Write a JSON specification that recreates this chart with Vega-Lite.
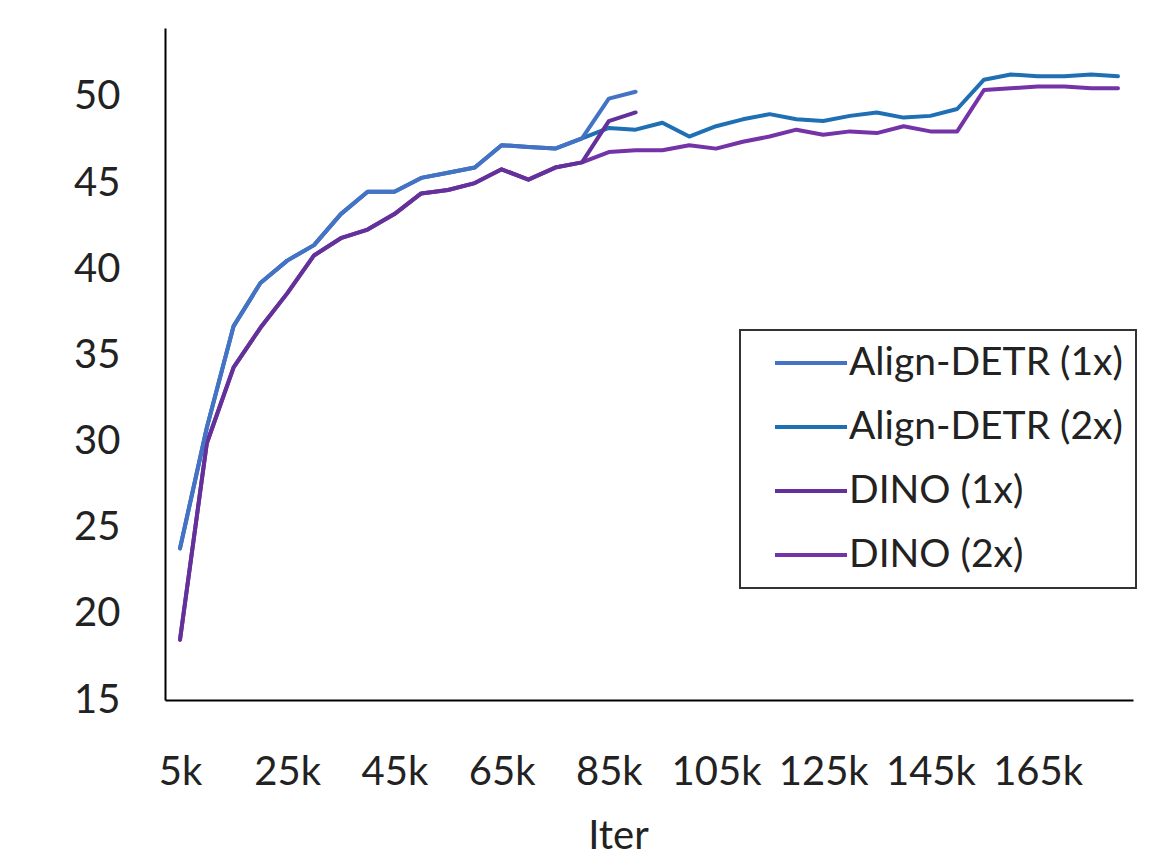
{
  "$schema": "https://vega.github.io/schema/vega-lite/v6.json",
  "width": 968,
  "height": 672,
  "autosize": "none",
  "padding": {"left": 165, "top": 28, "right": 31, "bottom": 154},
  "background": "white",
  "config": {"view": {"stroke": null}, "font": "Lato", "legend": {"strokeWidth": 2}},
  "data": {"values": [
    {"iter": 5, "series": "Align-DETR (2x)", "ap": 23.8},
    {"iter": 10, "series": "Align-DETR (2x)", "ap": 30.8},
    {"iter": 15, "series": "Align-DETR (2x)", "ap": 36.7},
    {"iter": 20, "series": "Align-DETR (2x)", "ap": 39.2},
    {"iter": 25, "series": "Align-DETR (2x)", "ap": 40.5},
    {"iter": 30, "series": "Align-DETR (2x)", "ap": 41.4},
    {"iter": 35, "series": "Align-DETR (2x)", "ap": 43.2},
    {"iter": 40, "series": "Align-DETR (2x)", "ap": 44.5},
    {"iter": 45, "series": "Align-DETR (2x)", "ap": 44.5},
    {"iter": 50, "series": "Align-DETR (2x)", "ap": 45.3},
    {"iter": 55, "series": "Align-DETR (2x)", "ap": 45.6},
    {"iter": 60, "series": "Align-DETR (2x)", "ap": 45.9},
    {"iter": 65, "series": "Align-DETR (2x)", "ap": 47.2},
    {"iter": 70, "series": "Align-DETR (2x)", "ap": 47.1},
    {"iter": 75, "series": "Align-DETR (2x)", "ap": 47.0},
    {"iter": 80, "series": "Align-DETR (2x)", "ap": 47.6},
    {"iter": 85, "series": "Align-DETR (2x)", "ap": 48.2},
    {"iter": 90, "series": "Align-DETR (2x)", "ap": 48.1},
    {"iter": 95, "series": "Align-DETR (2x)", "ap": 48.5},
    {"iter": 100, "series": "Align-DETR (2x)", "ap": 47.7},
    {"iter": 105, "series": "Align-DETR (2x)", "ap": 48.3},
    {"iter": 110, "series": "Align-DETR (2x)", "ap": 48.7},
    {"iter": 115, "series": "Align-DETR (2x)", "ap": 49.0},
    {"iter": 120, "series": "Align-DETR (2x)", "ap": 48.7},
    {"iter": 125, "series": "Align-DETR (2x)", "ap": 48.6},
    {"iter": 130, "series": "Align-DETR (2x)", "ap": 48.9},
    {"iter": 135, "series": "Align-DETR (2x)", "ap": 49.1},
    {"iter": 140, "series": "Align-DETR (2x)", "ap": 48.8},
    {"iter": 145, "series": "Align-DETR (2x)", "ap": 48.9},
    {"iter": 150, "series": "Align-DETR (2x)", "ap": 49.3},
    {"iter": 155, "series": "Align-DETR (2x)", "ap": 51.0},
    {"iter": 160, "series": "Align-DETR (2x)", "ap": 51.3},
    {"iter": 165, "series": "Align-DETR (2x)", "ap": 51.2},
    {"iter": 170, "series": "Align-DETR (2x)", "ap": 51.2},
    {"iter": 175, "series": "Align-DETR (2x)", "ap": 51.3},
    {"iter": 180, "series": "Align-DETR (2x)", "ap": 51.2},
    {"iter": 5, "series": "DINO (2x)", "ap": 18.5},
    {"iter": 10, "series": "DINO (2x)", "ap": 29.9},
    {"iter": 15, "series": "DINO (2x)", "ap": 34.3},
    {"iter": 20, "series": "DINO (2x)", "ap": 36.6},
    {"iter": 25, "series": "DINO (2x)", "ap": 38.6},
    {"iter": 30, "series": "DINO (2x)", "ap": 40.8},
    {"iter": 35, "series": "DINO (2x)", "ap": 41.8},
    {"iter": 40, "series": "DINO (2x)", "ap": 42.3},
    {"iter": 45, "series": "DINO (2x)", "ap": 43.2},
    {"iter": 50, "series": "DINO (2x)", "ap": 44.4},
    {"iter": 55, "series": "DINO (2x)", "ap": 44.6},
    {"iter": 60, "series": "DINO (2x)", "ap": 45.0},
    {"iter": 65, "series": "DINO (2x)", "ap": 45.8},
    {"iter": 70, "series": "DINO (2x)", "ap": 45.2},
    {"iter": 75, "series": "DINO (2x)", "ap": 45.9},
    {"iter": 80, "series": "DINO (2x)", "ap": 46.2},
    {"iter": 85, "series": "DINO (2x)", "ap": 46.8},
    {"iter": 90, "series": "DINO (2x)", "ap": 46.9},
    {"iter": 95, "series": "DINO (2x)", "ap": 46.9},
    {"iter": 100, "series": "DINO (2x)", "ap": 47.2},
    {"iter": 105, "series": "DINO (2x)", "ap": 47.0},
    {"iter": 110, "series": "DINO (2x)", "ap": 47.4},
    {"iter": 115, "series": "DINO (2x)", "ap": 47.7},
    {"iter": 120, "series": "DINO (2x)", "ap": 48.1},
    {"iter": 125, "series": "DINO (2x)", "ap": 47.8},
    {"iter": 130, "series": "DINO (2x)", "ap": 48.0},
    {"iter": 135, "series": "DINO (2x)", "ap": 47.9},
    {"iter": 140, "series": "DINO (2x)", "ap": 48.3},
    {"iter": 145, "series": "DINO (2x)", "ap": 48.0},
    {"iter": 150, "series": "DINO (2x)", "ap": 48.0},
    {"iter": 155, "series": "DINO (2x)", "ap": 50.4},
    {"iter": 160, "series": "DINO (2x)", "ap": 50.5},
    {"iter": 165, "series": "DINO (2x)", "ap": 50.6},
    {"iter": 170, "series": "DINO (2x)", "ap": 50.6},
    {"iter": 175, "series": "DINO (2x)", "ap": 50.5},
    {"iter": 180, "series": "DINO (2x)", "ap": 50.5},
    {"iter": 5, "series": "DINO (1x)", "ap": 18.5},
    {"iter": 10, "series": "DINO (1x)", "ap": 29.9},
    {"iter": 15, "series": "DINO (1x)", "ap": 34.3},
    {"iter": 20, "series": "DINO (1x)", "ap": 36.6},
    {"iter": 25, "series": "DINO (1x)", "ap": 38.6},
    {"iter": 30, "series": "DINO (1x)", "ap": 40.8},
    {"iter": 35, "series": "DINO (1x)", "ap": 41.8},
    {"iter": 40, "series": "DINO (1x)", "ap": 42.3},
    {"iter": 45, "series": "DINO (1x)", "ap": 43.2},
    {"iter": 50, "series": "DINO (1x)", "ap": 44.4},
    {"iter": 55, "series": "DINO (1x)", "ap": 44.6},
    {"iter": 60, "series": "DINO (1x)", "ap": 45.0},
    {"iter": 65, "series": "DINO (1x)", "ap": 45.8},
    {"iter": 70, "series": "DINO (1x)", "ap": 45.2},
    {"iter": 75, "series": "DINO (1x)", "ap": 45.9},
    {"iter": 80, "series": "DINO (1x)", "ap": 46.2},
    {"iter": 85, "series": "DINO (1x)", "ap": 48.6},
    {"iter": 90, "series": "DINO (1x)", "ap": 49.1},
    {"iter": 5, "series": "Align-DETR (1x)", "ap": 23.8},
    {"iter": 10, "series": "Align-DETR (1x)", "ap": 30.8},
    {"iter": 15, "series": "Align-DETR (1x)", "ap": 36.7},
    {"iter": 20, "series": "Align-DETR (1x)", "ap": 39.2},
    {"iter": 25, "series": "Align-DETR (1x)", "ap": 40.5},
    {"iter": 30, "series": "Align-DETR (1x)", "ap": 41.4},
    {"iter": 35, "series": "Align-DETR (1x)", "ap": 43.2},
    {"iter": 40, "series": "Align-DETR (1x)", "ap": 44.5},
    {"iter": 45, "series": "Align-DETR (1x)", "ap": 44.5},
    {"iter": 50, "series": "Align-DETR (1x)", "ap": 45.3},
    {"iter": 55, "series": "Align-DETR (1x)", "ap": 45.6},
    {"iter": 60, "series": "Align-DETR (1x)", "ap": 45.9},
    {"iter": 65, "series": "Align-DETR (1x)", "ap": 47.2},
    {"iter": 70, "series": "Align-DETR (1x)", "ap": 47.1},
    {"iter": 75, "series": "Align-DETR (1x)", "ap": 47.0},
    {"iter": 80, "series": "Align-DETR (1x)", "ap": 47.6},
    {"iter": 85, "series": "Align-DETR (1x)", "ap": 49.9},
    {"iter": 90, "series": "Align-DETR (1x)", "ap": 50.3}
  ]},
  "mark": {"type": "line", "strokeWidth": 4, "strokeJoin": "round", "strokeCap": "round"},
  "encoding": {
    "x": {
      "field": "iter", "type": "quantitative",
      "scale": {"domain": [2.2, 182.8], "nice": false, "zero": false},
      "axis": {
        "values": [5, 25, 45, 65, 85, 105, 125, 145, 165],
        "labelExpr": "datum.value + 'k'",
        "grid": false, "ticks": false, "tickSize": 0,
        "domainColor": "#000000", "domainWidth": 2,
        "labelFontSize": 40, "labelColor": "#222222", "labelPadding": 52,
        "labelFlush": false, "labelOverlap": false,
        "title": "Iter", "titleFontSize": 40, "titleFontWeight": "normal", "titleColor": "#222222",
        "titleX": 453, "titleY": 116, "titleBaseline": "top", "titleAlign": "center", "titleAnchor": null
      }
    },
    "y": {
      "field": "ap", "type": "quantitative",
      "scale": {"domain": [15, 54], "nice": false, "zero": false},
      "axis": {
        "values": [15, 20, 25, 30, 35, 40, 45, 50],
        "grid": false, "ticks": false, "tickSize": 0,
        "domainColor": "#000000", "domainWidth": 2,
        "labelFontSize": 40, "labelColor": "#222222", "labelPadding": 45,
        "labelFlush": false, "labelOverlap": false,
        "title": null
      }
    },
    "color": {
      "field": "series", "type": "nominal",
      "scale": {
        "domain": ["Align-DETR (1x)", "Align-DETR (2x)", "DINO (1x)", "DINO (2x)"],
        "range": ["#4472C4", "#1F6FB5", "#64309A", "#7434A8"]
      },
      "legend": {
        "orient": "none", "legendX": 575, "legendY": 302,
        "title": null,
        "strokeColor": "#333333",
        "padding": 13,
        "symbolType": "M-2,0H2", "symbolSize": 1296, "symbolStrokeWidth": 4,
        "symbolOffset": 38,
        "labelFontSize": 39, "labelColor": "#222222", "labelOffset": 18,
        "rowPadding": 24, "labelLimit": 400
      }
    }
  }
}
